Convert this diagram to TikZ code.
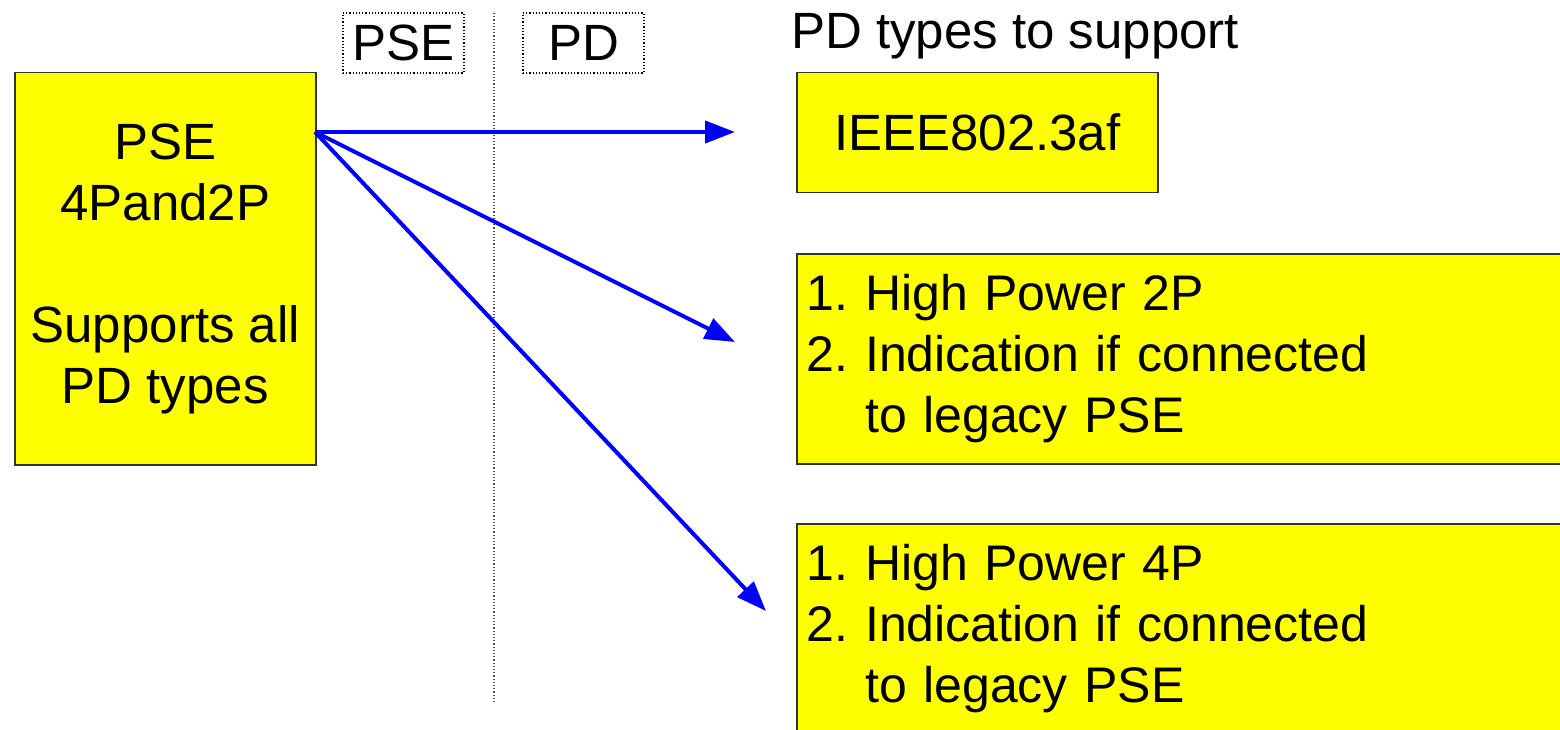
\documentclass[tikz,border=0pt]{standalone}
\usepackage{fontspec}
\setmainfont{Liberation Sans}
\usetikzlibrary{arrows.meta}
\definecolor{boxyellow}{RGB}{255,255,0}
\frenchspacing
\begin{document}
\begin{tikzpicture}[x=1pt,y=-1pt,
  ybox/.style={draw=black!80, line width=1.5pt, fill=boxyellow, inner sep=0pt},
  lbl/.style={draw=black, dotted, line width=1.2pt, minimum width=121pt, minimum height=60pt, inner sep=0pt},
  txt/.style={font=\fontsize{51}{61}\selectfont},
  listtxt/.style={font=\fontsize{50}{61}\selectfont},
  conn/.style={draw=blue, line width=4pt, -{Triangle[length=30pt,width=22pt]}}]
\useasboundingbox (0,0) rectangle (1560,730);
\clip (0,0) rectangle (1560,730);
% dotted separator
\coordinate (sepTop) at (494,13);
\coordinate (sepBot) at (494,703);
\draw[black!70, dotted, line width=1.2pt] (sepTop) -- (sepBot);
% side labels
\node[lbl, txt] (lpse) at (403.5,43) {PSE};
\node[lbl, txt] (lpd) at (583.5,43) {PD};
% heading
\node[txt, anchor=west, inner sep=0pt] (head) at (791,36) {PD types to support};
% PSE box
\node[ybox, txt, minimum width=301pt, minimum height=392pt, align=center, anchor=north west] (pse) at (14,72)
  {PSE\\4Pand2P\\[61pt]Supports all\\PD types};
% PD boxes
\node[ybox, txt, minimum width=361pt, minimum height=120pt, anchor=north west] (af) at (796,72) {IEEE802.3af};
\node[ybox, listtxt, minimum width=800pt, minimum height=210pt, text width=780pt, inner xsep=10pt, align=left, anchor=north west] (hp2) at (796,253)
  {1. High Power 2P\\2. Indication if connected\\\phantom{2. }to legacy PSE};
\node[ybox, listtxt, minimum width=800pt, minimum height=210pt, text width=780pt, inner xsep=10pt, align=left, anchor=north west] (hp4) at (796,523)
  {1. High Power 4P\\2. Indication if connected\\\phantom{2. }to legacy PSE};
% connectors
\coordinate (src) at (315,132);
\coordinate (t1) at (735,132);
\coordinate (t2) at (735,342);
\coordinate (t3) at (766,611);
\draw[conn] (src) -- (t1);
\draw[conn] (src) -- (t2);
\draw[conn] (src) -- (t3);
\end{tikzpicture}
\end{document}
